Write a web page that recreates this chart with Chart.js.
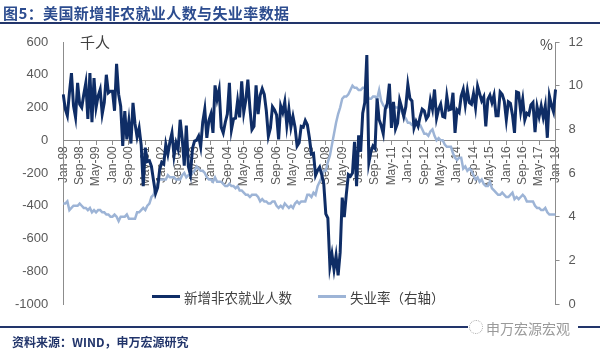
<!DOCTYPE html>
<html>
<head>
<meta charset="utf-8">
<script src="https://cdn.jsdelivr.net/npm/chart.js@4.4.1/dist/chart.umd.min.js"></script>
<style>
  html, body { margin: 0; padding: 0; background: #fff; }
  #wrap { position: relative; width: 600px; height: 352px; overflow: hidden;
          font-family: "Noto Sans CJK SC", "Liberation Sans", sans-serif; }
  #chart { position: absolute; left: 0; top: 0; }
  .abs { position: absolute; white-space: nowrap; }
  #title { left: 3px; top: 2px; font-size: 15px; font-weight: bold; color: #2c4c8f; letter-spacing: 0.4px; }
  #rule-top { left: 0; top: 22px; width: 600px; height: 2px; background: #22356b; }
  #rule-bot1 { left: 0; top: 326px; width: 468px; height: 2px; background: #22356b; }
  #rule-bot2 { left: 578px; top: 326px; width: 22px; height: 2px; background: #22356b; }
  #mark { left: 486px; top: 318px; font-size: 14px; color: #9a9a9a; }
  #mark-icon { left: 469px; top: 320px; width: 12px; height: 12px; border: 1px dotted #aaa; border-radius: 50%; }
  #source { left: 12px; top: 333px; font-size: 12px; font-weight: bold; color: #22356b; }
  #unit-l { left: 80px; top: 31px; font-size: 15px; color: #404040; }
  #unit-r { left: 540px; top: 34px; font-size: 14px; color: #404040; }
  .leg-line { height: 3px; top: 295px; }
  .leg-text { top: 287px; font-size: 13.5px; color: #404040; }
</style>
</head>
<body>
<div id="wrap">
  <canvas id="chart" width="600" height="352"></canvas>
  <div class="abs" id="title">图5：美国新增非农就业人数与失业率数据</div>
  <div class="abs" id="rule-top"></div>
  <div class="abs" id="unit-l">千人</div>
  <div class="abs" id="unit-r">%</div>
  <div class="abs leg-line" style="left:152px;width:28px;background:#0f2d66"></div>
  <div class="abs leg-text" style="left:184px">新增非农就业人数</div>
  <div class="abs leg-line" style="left:318px;width:28px;background:#9db4d6"></div>
  <div class="abs leg-text" style="left:350px">失业率（右轴）</div>
  <div class="abs" id="rule-bot1"></div>
  <div class="abs" id="rule-bot2"></div>
  <div class="abs" id="mark-icon"></div>
  <div class="abs" id="mark">申万宏源宏观</div>
  <div class="abs" id="source">资料来源：WIND，申万宏源研究</div>
</div>
<script>
/* monthly data, Jan-98 .. Jan-18 */
const START_YEAR = 1998;
const MONTH_NAMES = ["Jan", "Feb", "Mar", "Apr", "May", "Jun", "Jul", "Aug", "Sep", "Oct", "Nov", "Dec"];
const TICK_EVERY = 8;   // a label every 8 months, like the original

// 新增非农就业人数, 千人
const payrolls = [
  280, 190, 150, 290, 410, 210, 140, 350, 220, 200, 280, 350,   // 1998
  130, 410, 110, 380, 200, 270, 310, 160, 230, 400, 290, 300,   // 1999
  300, 180, 467, 280, 208, -34, 178, 6, 117, -20, 228, 100,     // 2000
  20, 75, -30, -280, -45, -130, -125, -160, -245, -325, -290, -180,
  -135, -145, -25, -85, -10, 45, -95, -15, -55, 125, 10, -155,
  90, -160, -210, -50, -5, 0, 25, -40, 110, 190, 15, 120,
  160, 45, 335, 250, 310, 80, 45, 110, 160, 350, 65, 130,       // 2004
  135, 240, 140, 360, 170, 245, 370, 195, 65, 85, 335, 160,
  275, 315, 280, 180, 25, 75, 205, 185, 155, 5, 210, 170,
  235, 90, 190, 80, 145, 80, -35, -15, 85, 80, 120, 95,
  15, -85, -80, -215, -185, -165, -210, -265, -450, -475, -770, -695,  // 2008
  -790, -705, -825, -685, -350, -470, -330, -210, -220, -200, -10, -280,
  30, -70, 165, 230, 520, -135, -70, -35, -50, 255, 125, 90,
  40, 190, 225, 345, 75, 235, 70, 105, 245, 200, 145, 205,
  340, 255, 240, 75, 115, 85, 145, 190, 180, 130, 150, 245,     // 2012
  190, 310, 135, 190, 220, 145, 140, 270, 185, 190, 290, 45,
  185, 170, 270, 310, 215, 305, 230, 220, 285, 200, 330, 285,
  240, 265, 85, 250, 275, 230, 275, 150, 150, 295, 280, 240,
  125, 235, 225, 155, 45, 295, 290, 175, 250, 125, 165, 155,    // 2016
  215, 230, 50, 205, 145, 210, 140, 210, 15, 270, 215, 175,
  310                                                           // Jan-18
];

// 失业率, %
const unemployment = [
  4.6, 4.6, 4.7, 4.3, 4.4, 4.5, 4.5, 4.5, 4.6, 4.5, 4.4, 4.4,   // 1998
  4.3, 4.4, 4.2, 4.3, 4.2, 4.3, 4.3, 4.2, 4.2, 4.1, 4.1, 4.0,
  4.0, 4.1, 4.0, 3.8, 4.0, 4.0, 4.0, 4.1, 3.9, 3.9, 3.9, 3.9,
  4.2, 4.2, 4.3, 4.4, 4.3, 4.5, 4.6, 4.9, 5.0, 5.3, 5.5, 5.7,
  5.7, 5.7, 5.7, 5.9, 5.8, 5.8, 5.8, 5.7, 5.7, 5.7, 5.9, 6.0,   // 2002
  5.8, 5.9, 5.9, 6.0, 6.1, 6.3, 6.2, 6.1, 6.1, 6.0, 5.8, 5.7,
  5.7, 5.6, 5.8, 5.6, 5.6, 5.6, 5.5, 5.4, 5.4, 5.5, 5.4, 5.4,
  5.3, 5.4, 5.2, 5.2, 5.1, 5.0, 5.0, 4.9, 5.0, 5.0, 5.0, 4.9,
  4.7, 4.8, 4.7, 4.7, 4.6, 4.6, 4.7, 4.7, 4.5, 4.4, 4.5, 4.4,   // 2006
  4.6, 4.5, 4.4, 4.5, 4.4, 4.6, 4.7, 4.6, 4.7, 4.7, 4.7, 5.0,
  5.0, 4.9, 5.1, 5.0, 5.4, 5.6, 5.8, 6.1, 6.1, 6.5, 6.8, 7.3,
  7.8, 8.3, 8.7, 9.0, 9.4, 9.5, 9.5, 9.6, 9.8, 10.0, 9.9, 9.9,
  9.8, 9.8, 9.9, 9.9, 9.6, 9.4, 9.4, 9.5, 9.5, 9.4, 9.8, 9.3,   // 2010
  9.1, 9.0, 9.0, 9.1, 9.0, 9.1, 9.0, 9.0, 9.0, 8.8, 8.6, 8.5,
  8.3, 8.3, 8.2, 8.2, 8.2, 8.2, 8.2, 8.0, 7.8, 7.8, 7.7, 7.9,
  8.0, 7.7, 7.5, 7.6, 7.5, 7.5, 7.3, 7.2, 7.2, 7.2, 6.9, 6.7,
  6.6, 6.7, 6.7, 6.2, 6.3, 6.1, 6.2, 6.1, 5.9, 5.7, 5.8, 5.6,   // 2014
  5.7, 5.5, 5.4, 5.4, 5.6, 5.3, 5.2, 5.1, 5.0, 5.0, 5.1, 5.0,
  4.9, 4.9, 5.0, 5.1, 4.8, 4.9, 4.8, 4.9, 5.0, 4.9, 4.7, 4.7,
  4.7, 4.7, 4.5, 4.4, 4.4, 4.3, 4.3, 4.4, 4.2, 4.1, 4.1, 4.1,
  4.1
];

// category labels "Jan-98", "Feb-98", ...
const months = payrolls.map((_, i) => {
  const yy = String((START_YEAR + Math.floor(i / 12)) % 100).padStart(2, "0");
  return MONTH_NAMES[i % 12] + "-" + yy;
});

const AXIS_GREY = "#8c8c8c";
const TEXT_GREY = "#595959";

Chart.defaults.font.family = "'Liberation Sans', Arial, sans-serif";
Chart.defaults.color = TEXT_GREY;

new Chart(document.getElementById("chart").getContext("2d"), {
  type: "line",
  data: {
    labels: months,
    datasets: [
      {
        label: "新增非农就业人数",
        data: payrolls,
        yAxisID: "y",
        borderColor: "#0f2d66",
        borderWidth: 3,
        pointRadius: 0,
      },
      {
        label: "失业率（右轴）",
        data: unemployment,
        yAxisID: "y1",
        borderColor: "#9db4d6",
        borderWidth: 2.5,
        pointRadius: 0,
      },
    ],
  },
  options: {
    responsive: false,
    animation: false,
    // the rotated first x label already pushes the plot right, so no extra left padding
    layout: { padding: { left: 0, right: 8, top: 42, bottom: 48 } },
    plugins: { legend: { display: false }, tooltip: { enabled: false } },
    scales: {
      x: {
        position: { y: 0 },   // axis runs along the zero line
        offset: false,
        grid: { drawOnChartArea: false, tickLength: 4, color: AXIS_GREY },
        border: { color: AXIS_GREY },
        ticks: {
          autoSkip: false, minRotation: 90, maxRotation: 90, padding: 2,
          font: { size: 12 }, color: TEXT_GREY,
          callback(v, i) { return i % TICK_EVERY === 0 ? this.getLabelForValue(v) : null; },
        },
      },
      y: {
        min: -1000, max: 600,
        grid: { drawOnChartArea: false, drawTicks: false },
        border: { color: AXIS_GREY },
        ticks: { stepSize: 200, padding: 15, font: { size: 13 }, callback: v => String(v) },
      },
      y1: {
        position: "right",
        min: 0, max: 12,
        grid: { drawOnChartArea: false, tickLength: 4, color: AXIS_GREY },
        border: { color: AXIS_GREY },
        ticks: { stepSize: 2, padding: 9, font: { size: 13 }, callback: v => String(v) },
      },
    },
  },
});
</script>
</body>
</html>
